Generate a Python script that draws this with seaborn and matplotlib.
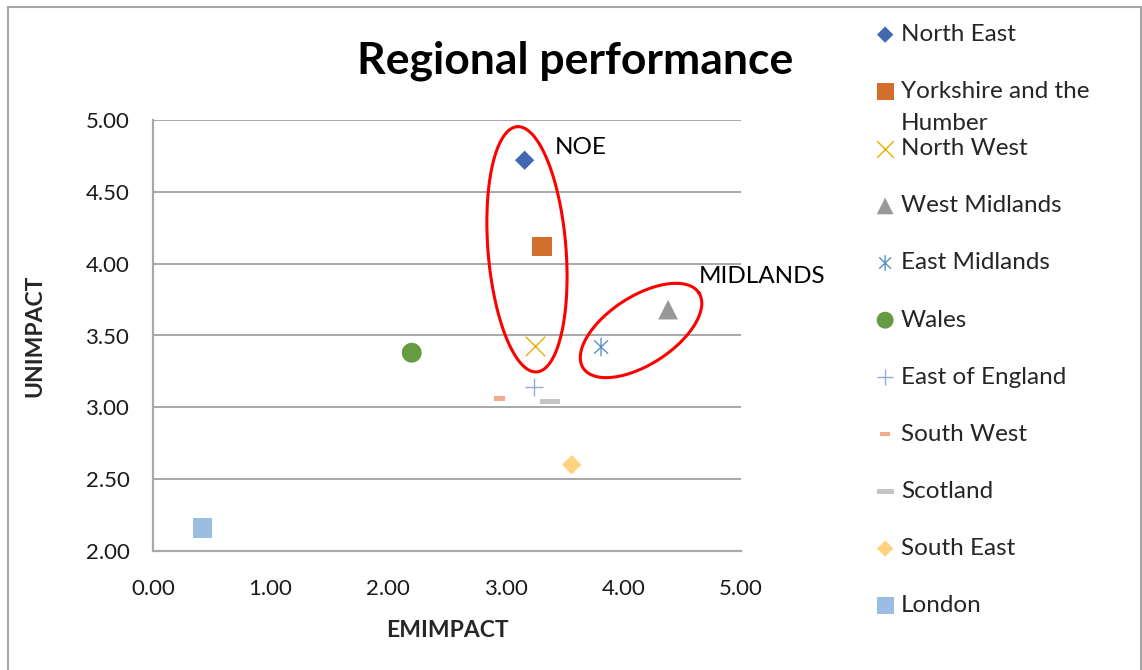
"""
Regional performance scatter: EMIMPACT vs UNIMPACT for UK regions,
with the NOE and MIDLANDS groups circled.
"""

import numpy as np
import matplotlib
matplotlib.use("Agg")
import matplotlib.pyplot as plt
from matplotlib.path import Path
from matplotlib.patches import Rectangle
from matplotlib.ticker import FormatStrFormatter, MultipleLocator
import seaborn as sns

# Data
regions = ["North East", "Yorkshire and the Humber", "North West", "West Midlands",
           "East Midlands", "Wales", "East of England", "South West", "Scotland",
           "South East", "London"]
emimpact = [3.16, 3.31, 3.25, 4.38, 3.81, 2.20, 3.24, 2.95, 3.38, 3.56, 0.42]
unimpact = [4.72, 4.12, 3.43, 3.68, 3.42, 3.38, 3.14, 3.06, 3.04, 2.60, 2.16]

colors = ["#4268B2", "#D36F2D", "#E8B000", "#989898", "#5A91CB", "#659B41",
          "#8FAADC", "#F2AA8A", "#C4C4C4", "#FFD27F", "#9BBDE3"]

# Excel style markers
asterisk = Path([(0, -1), (0, 1), (-0.75, -0.72), (0.75, 0.72), (-0.75, 0.72), (0.75, -0.72)],
                [Path.MOVETO, Path.LINETO, Path.MOVETO, Path.LINETO, Path.MOVETO, Path.LINETO])


def dash(h):
    return Path([(-1, -h), (1, -h), (1, h), (-1, h), (-1, -h)],
                [Path.MOVETO, Path.LINETO, Path.LINETO, Path.LINETO, Path.CLOSEPOLY])


markers = ["D", "s", "x", "^", asterisk, "o", "+", dash(0.45), dash(0.25), "D", "s"]
sizes = [96, 200, 200, 200, 180, 205, 180, 63, 207, 96, 200]
# 0 = filled, 1 = matplotlib line marker, 2 = custom line path
line_art = [0, 0, 1, 0, 2, 0, 1, 0, 0, 0, 0]

sns.set_theme(style="white")
plt.rcParams["font.family"] = ["Lato", "DejaVu Sans"]

fig = plt.figure(figsize=(11.42, 6.70), dpi=100)
ax = fig.add_axes([153 / 1142, 1 - 551 / 670, (741 - 153) / 1142, (551 - 120) / 670])

for i, region in enumerate(regions):
    if line_art[i] == 1:
        style = dict(color=colors[i], linewidth=1.0)
    elif line_art[i] == 2:
        style = dict(facecolor="none", edgecolor=colors[i], linewidth=1.0)
    else:
        style = dict(color=colors[i], edgecolor="none", linewidth=0)
    sns.scatterplot(x=[emimpact[i]], y=[unimpact[i]], marker=markers[i], s=sizes[i],
                    ax=ax, label=region, zorder=3, legend=False, **style)

ax.set_xlim(0, 5)
ax.set_ylim(2, 5)
ax.xaxis.set_major_locator(MultipleLocator(1))
ax.yaxis.set_major_locator(MultipleLocator(0.5))
ax.xaxis.set_major_formatter(FormatStrFormatter("%.2f"))
ax.yaxis.set_major_formatter(FormatStrFormatter("%.2f"))
ax.tick_params(axis="both", length=0, labelsize=16, colors="#1a1a1a")
ax.tick_params(axis="y", pad=17)
ax.tick_params(axis="x", pad=20)
ax.grid(axis="y", color="#9A9A9A", linewidth=1.2)
ax.grid(axis="x", visible=False)
for side in ["top", "right"]:
    ax.spines[side].set_visible(False)
for side in ["left", "bottom"]:
    ax.spines[side].set_color("#A8A8A8")
    ax.spines[side].set_linewidth(1.6)

ax.set_xlabel("EMIMPACT", fontsize=16.5, fontweight="bold", labelpad=15)
ax.set_ylabel("UNIMPACT", fontsize=16.5, fontweight="bold", labelpad=29)

fig.text(575 / 1142, 1 - 61 / 670, "Regional performance", ha="center", va="center",
         fontsize=32, fontweight="bold", color="black")

# Circles drawn round the two groups (centre in data, axes in pixels)
def draw_ellipse(cx, cy, a_px, b_px, angle_deg):
    t = np.linspace(0, 2 * np.pi, 300)
    ang = np.deg2rad(angle_deg)
    u, v = a_px * np.cos(t), b_px * np.sin(t)
    centre = ax.transData.transform((cx, cy))
    pts = np.column_stack([centre[0] + u * np.cos(ang) - v * np.sin(ang),
                           centre[1] + u * np.sin(ang) + v * np.cos(ang)])
    xy = ax.transData.inverted().transform(pts)
    ax.plot(xy[:, 0], xy[:, 1], color="#FF0000", linewidth=2.2, zorder=4, clip_on=False)


draw_ellipse(3.18, 4.10, 123, 39, 94.6)
draw_ellipse(4.15, 3.535, 69, 34, 33)

ax.text(3.42, 4.81, "NOE", fontsize=17.5, ha="left", va="center", color="black")
ax.text(4.64, 3.91, "MIDLANDS", fontsize=17.5, ha="left", va="center", color="black",
        clip_on=False)

# Legend on the right, Yorkshire label wraps onto a second line
handles, labels = ax.get_legend_handles_labels()
labels = ["Yorkshire and the" if lab.startswith("Yorkshire") else lab for lab in labels]
fig.legend(handles, labels, loc="upper left", bbox_to_anchor=(873 / 1142, 1 - 24 / 670),
           frameon=False, fontsize=17.5, labelspacing=1.485, handlelength=1.0,
           handletextpad=0.15, borderpad=0, borderaxespad=0, markerscale=0.85,
           scatterpoints=1)
fig.text(901 / 1142, 1 - 124 / 670, "Humber", fontsize=17.5, ha="left", va="center")

# Chart area border
fig.patches.append(Rectangle((8 / 1142, -0.02), (1141 - 8) / 1142, 1 - 7 / 670 + 0.02,
                             transform=fig.transFigure, fill=False,
                             edgecolor="#A6A6A6", linewidth=1.5))

fig.savefig("out.png", dpi=100)
plt.close(fig)
